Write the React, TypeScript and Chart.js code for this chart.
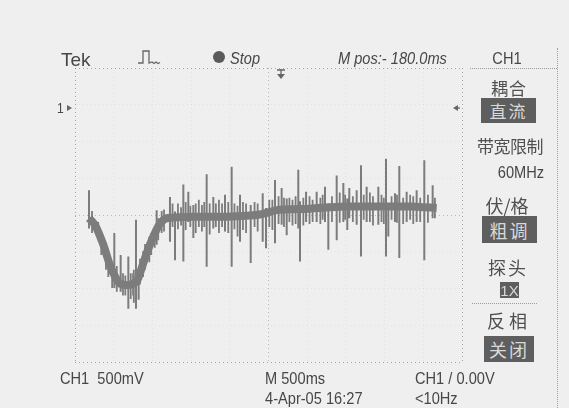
import React, { useEffect, useRef } from "react";
import { Chart, registerables } from "chart.js";

Chart.register(...registerables);

// ---- Data (time in ms, amplitude in volts, ground = 0 V) ----
const traceTimeMs = [181, 258, 366, 452, 517, 581, 689, 797, 861, 935, 1012, 1098, 1184, 1529, 1960, 2390, 2606, 3036, 3467, 3898, 4328, 4673];
const traceVolts = [-1.5, -1.59, -1.86, -2.14, -2.29, -2.39, -2.41, -2.36, -2.18, -1.95, -1.75, -1.57, -1.5, -1.48, -1.48, -1.45, -1.39, -1.37, -1.34, -1.34, -1.34, -1.36];

// large glitches
const spikeTimeMs = [181, 508, 590, 689, 788, 822, 1055, 1227, 1292, 1400, 1464, 1529, 1701, 1787, 1938, 2024, 2132, 2270, 2425, 2468, 2584, 2670, 2735, 2885, 2907, 2985, 3122, 3230, 3273, 3381, 3467, 3518, 3544, 3639, 3695, 3768, 3919, 4018, 4048, 4134, 4190, 4285, 4414, 4513, 4621];
const spikeHighV = [-1.12, -1.7, -2.0, -2.02, -1.52, -2.23, -1.39, -1.21, -1.41, -1.04, -1.14, -1.32, -0.9, -1.21, -1.18, -0.8, -1.18, -1.32, -1.16, -1.36, -0.98, -1.09, -1.23, -0.84, -1.27, -1.14, -1.14, -1.07, -1.3, -0.92, -1.02, -1.23, -1.09, -1.12, -0.78, -1.07, -1.07, -0.69, -1.32, -1.16, -0.79, -1.14, -1.12, -0.71, -1.05];
const spikeLowV = [-1.64, -2.45, -2.5, -2.73, -2.73, -2.61, -1.86, -1.82, -2.07, -2.09, -1.55, -1.77, -2.16, -1.64, -1.68, -2.16, -1.82, -2.11, -1.82, -1.91, -1.84, -1.59, -1.73, -1.64, -2.09, -1.55, -1.55, -1.55, -1.93, -1.8, -1.55, -1.66, -1.5, -1.59, -2.02, -1.55, -1.59, -2.02, -1.75, -1.55, -2.04, -1.55, -1.55, -2.07, -1.5];

// small noise excursions riding on the trace
const noiseTimeMs = [220, 300, 340, 400, 430, 480, 540, 620, 650, 720, 750, 760, 840, 880, 905, 960, 985, 1030, 1075, 1120, 1150, 1260, 1330, 1370, 1430, 1490, 1560, 1600, 1640, 1670, 1740, 1820, 1860, 1900, 1980, 2060, 2100, 2170, 2210, 2320, 2360, 2510, 2550, 2630, 2700, 2770, 2810, 2850, 2950, 3030, 3070, 3170, 3200, 3320, 3420, 3490, 3590, 3730, 3810, 3850, 3960, 3990, 4090, 4160, 4240, 4330, 4370, 4460, 4560, 4650];
const noiseHighV = [-1.4, -1.55, -1.7, -1.85, -1.95, -2.1, -2.15, -2.25, -2.28, -2.25, -2.25, -2.2, -2.05, -1.95, -1.85, -1.75, -1.7, -1.62, -1.5, -1.4, -1.38, -1.3, -1.3, -1.35, -1.28, -1.33, -1.3, -1.25, -1.32, -1.28, -1.3, -1.3, -1.25, -1.3, -1.28, -1.3, -1.33, -1.28, -1.3, -1.28, -1.3, -1.25, -1.25, -1.2, -1.22, -1.22, -1.25, -1.2, -1.22, -1.2, -1.25, -1.22, -1.18, -1.2, -1.15, -1.18, -1.2, -1.18, -1.15, -1.2, -1.18, -1.22, -1.2, -1.18, -1.22, -1.18, -1.2, -1.22, -1.18, -1.22];
const noiseLowV = [-1.7, -1.8, -2.0, -2.2, -2.3, -2.45, -2.5, -2.55, -2.55, -2.6, -2.55, -2.65, -2.4, -2.3, -2.2, -2.1, -2.0, -1.9, -1.8, -1.7, -1.68, -1.62, -1.65, -1.6, -1.66, -1.62, -1.7, -1.62, -1.68, -1.62, -1.72, -1.62, -1.7, -1.62, -1.7, -1.65, -1.75, -1.66, -1.7, -1.62, -1.68, -1.62, -1.66, -1.58, -1.62, -1.55, -1.6, -1.58, -1.6, -1.58, -1.55, -1.58, -1.52, -1.55, -1.56, -1.52, -1.55, -1.52, -1.55, -1.6, -1.55, -1.58, -1.52, -1.56, -1.58, -1.52, -1.58, -1.55, -1.56, -1.5];

// Screen: 10 horizontal divisions of 500 ms, 8 vertical divisions of 500 mV
const timeDivMs = 500;
const voltDiv = 0.5;
const yMinV = -3.456;
const yMaxV = 0.544;

const TEXT = "#474747";
const TRACE = "#7c7c7c";
const FONT = '"Liberation Sans", Arial, sans-serif';
const CJK = '"Noto Sans CJK SC", "Noto Sans CJK TC", sans-serif';
const NARROW = 0.86;

const pairs = (ts: number[], hi: number[], lo: number[]) => {
  const out: any[] = [];
  ts.forEach((t, i) => {
    out.push({ x: t, y: lo[i] });
    out.push({ x: t, y: hi[i] });
    out.push({ x: t, y: null });
  });
  return out;
};

const decorPlugin = {
  id: "tekDecor",
  afterDraw(chart: any) {
    const ctx = chart.ctx as CanvasRenderingContext2D;
    ctx.save();
    ctx.setLineDash([]);
    ctx.strokeStyle = "#666";
    ctx.fillStyle = "#666";
    ctx.lineWidth = 1.3;
    // pulse icon
    ctx.beginPath();
    ctx.moveTo(138, 63);
    ctx.lineTo(143, 63);
    ctx.lineTo(143, 51);
    ctx.lineTo(149, 51);
    ctx.lineTo(149, 63);
    ctx.lineTo(152, 62);
    ctx.lineTo(154, 63.5);
    ctx.lineTo(156, 62);
    ctx.lineTo(158, 63.5);
    ctx.lineTo(160, 62.5);
    ctx.stroke();
    // stop dot
    ctx.fillStyle = "#5a5a5a";
    ctx.beginPath();
    ctx.arc(219, 57, 6, 0, Math.PI * 2);
    ctx.fill();
    ctx.fillStyle = "#666";
    // trigger position arrow
    ctx.beginPath();
    ctx.moveTo(281, 69);
    ctx.lineTo(281, 76);
    ctx.moveTo(277, 70);
    ctx.lineTo(285, 70);
    ctx.stroke();
    ctx.beginPath();
    ctx.moveTo(277, 74);
    ctx.lineTo(285, 74);
    ctx.lineTo(281, 79);
    ctx.closePath();
    ctx.fill();
    // channel ground marker (left)
    ctx.beginPath();
    ctx.moveTo(67, 105);
    ctx.lineTo(72, 108);
    ctx.lineTo(67, 111);
    ctx.closePath();
    ctx.fill();
    // trigger level marker (right)
    ctx.beginPath();
    ctx.moveTo(460, 108);
    ctx.lineTo(455, 108);
    ctx.stroke();
    ctx.beginPath();
    ctx.moveTo(458, 105);
    ctx.lineTo(453, 108);
    ctx.lineTo(458, 111);
    ctx.closePath();
    ctx.fill();
    ctx.restore();
  },
};

const gridColor = (edge: number, mid: number) => (c: any) =>
  c.index === 0 || c.index === edge ? "rgba(110,110,110,0.6)" : c.index === mid ? "rgba(120,120,120,0.45)" : "rgba(150,150,150,0.15)";

function App() {
  const ref = useRef<HTMLCanvasElement | null>(null);

  useEffect(() => {
    if (!ref.current) return;
    const trace = traceTimeMs.map((t, i) => ({ x: t, y: traceVolts[i] }));
    const chart = new Chart(ref.current, {
      type: "line",
      data: {
        datasets: [
          {
            data: trace,
            borderColor: TRACE,
            borderWidth: 8,
            pointRadius: 0,
            tension: 0.2,
          },
          {
            data: pairs(noiseTimeMs, noiseHighV, noiseLowV),
            borderColor: TRACE,
            borderWidth: 1.8,
            pointRadius: 0,
            spanGaps: false,
          },
          {
            data: pairs(spikeTimeMs, spikeHighV, spikeLowV),
            borderColor: TRACE,
            borderWidth: 2,
            pointRadius: 0,
            spanGaps: false,
          },
        ],
      },
      options: {
        responsive: false,
        animation: false,
        events: [],
        layout: { padding: { left: 75, right: 107, top: 68, bottom: 46 } },
        plugins: { legend: { display: false }, tooltip: { enabled: false } },
        scales: {
          x: {
            type: "linear",
            min: 0,
            max: 10 * timeDivMs,
            afterBuildTicks: (s: any) => {
              s.ticks = Array.from({ length: 11 }, (_, k) => ({ value: k * timeDivMs }));
            },
            ticks: { display: false },
            border: { display: false, dash: [1, 3] },
            grid: { drawTicks: false, color: gridColor(10, 5), lineWidth: 1 },
          },
          y: {
            type: "linear",
            min: yMinV,
            max: yMaxV,
            afterBuildTicks: (s: any) => {
              s.ticks = Array.from({ length: 9 }, (_, k) => ({ value: yMinV + k * voltDiv }));
            },
            ticks: { display: false },
            border: { display: false, dash: [1, 3] },
            grid: { drawTicks: false, color: gridColor(8, 4), lineWidth: 1 },
          },
        },
      },
      plugins: [decorPlugin],
    } as any);
    return () => chart.destroy();
  }, []);

  const txt = (x: number, y: number, s: string, extra: React.CSSProperties = {}) => (
    <div
      style={{
        position: "absolute",
        left: x,
        top: y,
        transform: `translateY(-50%) scaleX(${NARROW})`,
        transformOrigin: "left center",
        whiteSpace: "pre",
        lineHeight: 1,
        color: TEXT,
        fontFamily: FONT,
        fontSize: 17,
        ...extra,
      }}
    >
      {s}
    </div>
  );
  const ctr = (cx: number, y: number, s: string, extra: React.CSSProperties = {}) =>
    txt(cx, y, s, { transform: `translate(-50%, -50%) scaleX(${NARROW})`, transformOrigin: "center", ...extra });
  const cjk = (cx: number, y: number, s: string, fs: number, ls: number) =>
    txt(cx, y, s, { transform: "translate(-50%, -50%)", transformOrigin: "center", fontFamily: CJK, fontSize: fs, letterSpacing: ls, color: "#505050" });
  const box = (x1: number, y1: number, x2: number, y2: number, s: string, fs = 17, font = CJK) => (
    <div
      style={{
        position: "absolute",
        left: x1,
        top: y1,
        width: x2 - x1,
        height: y2 - y1,
        background: "#5e5e5e",
        color: "#d8d8d8",
        fontFamily: font,
        fontSize: fs,
        display: "flex",
        alignItems: "center",
        justifyContent: "center",
        letterSpacing: font === CJK ? 2 : 0,
      }}
    >
      {s}
    </div>
  );
  const hdots = (x1: number, x2: number, y: number) => (
    <div style={{ position: "absolute", left: x1, top: y, width: x2 - x1, height: 0, borderTop: "1px dotted #9a9a9a" }} />
  );

  return (
    <div style={{ position: "absolute", left: 0, top: 0, width: 569, height: 408, background: "#efefef", overflow: "hidden" }}>
      <canvas ref={ref} width={569} height={408} style={{ position: "absolute", left: 0, top: 0 }} />
      {txt(61, 59, "Tek", { fontSize: 19, transform: "translateY(-50%)" })}
      {txt(230, 58, "Stop", { fontStyle: "italic" })}
      {txt(338, 58, "M pos:- 180.0ms", { fontStyle: "italic" })}
      {ctr(507, 58, "CH1")}
      {txt(57, 108, "1", { fontSize: 14 })}

      {hdots(470, 557, 68)}
      <div style={{ position: "absolute", left: 557, top: 48, width: 0, height: 360, borderLeft: "1px dotted #a0a0a0" }} />
      {cjk(509, 87, "耦合", 17, 1)}
      {box(481, 98, 536, 123, "直流")}
      {cjk(510, 145, "带宽限制", 17, -0.5)}
      {ctr(521, 172, "60MHz")}
      {cjk(507, 205, "伏/格", 18, 0)}
      {box(482, 216, 537, 243, "粗调", 18)}
      {cjk(508, 267, "探头", 18, 2)}
      {box(500, 282, 519, 298, "1X", 15, FONT)}
      {hdots(472, 537, 303)}
      {cjk(509, 320, "反相", 18, 4)}
      {box(484, 336, 534, 362, "关闭", 18)}

      {txt(60, 378, "CH1  500mV")}
      {txt(265, 378, "M 500ms")}
      {txt(265, 398, "4-Apr-05 16:27")}
      {txt(415, 378, "CH1 / 0.00V")}
      {txt(415, 398, "<10Hz")}
    </div>
  );
}

export default App;
